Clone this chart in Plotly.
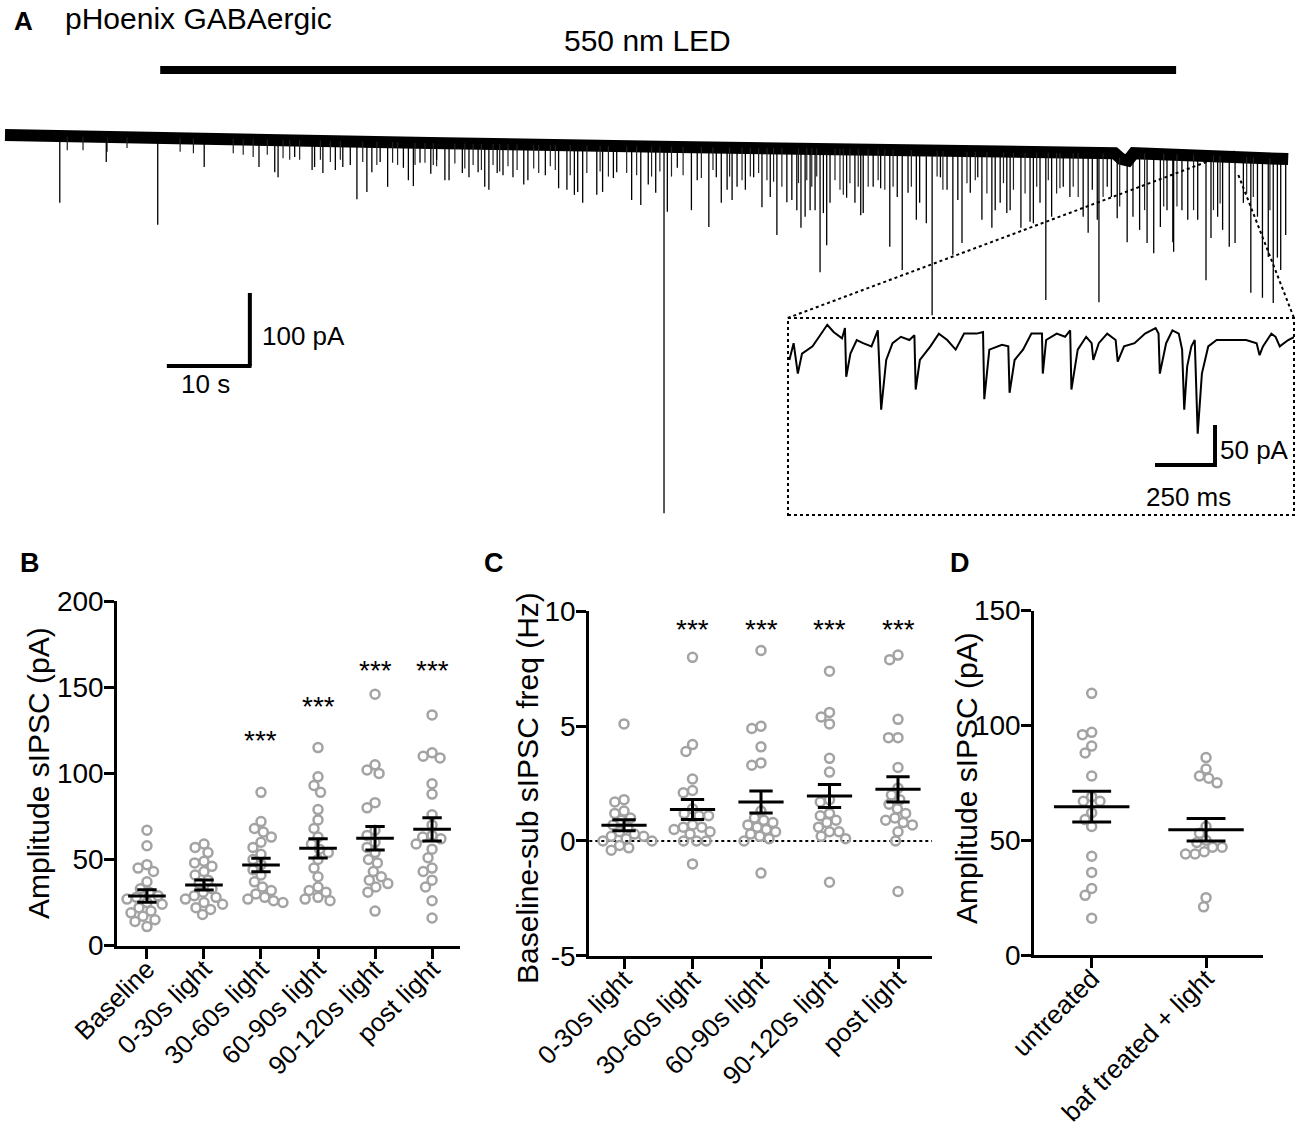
import numpy as np
import plotly.graph_objects as go

W, H = 1300, 1129
FONT = "Liberation Sans, Arial, sans-serif"
GREY = "#a3a3a3"

# ---------------- panel A: whole recording (time in s, current in pA) ----------------
base_t = [0, 11.4, 35.5, 51.2, 78.9, 103.0, 119.9, 133.7, 134.5, 135.3, 136.0, 144.0, 154.6]
base_i = [0, -3, -7, -11, -16, -19, -24, -25, -33, -35, -25, -27, -33]

# large events (peak current)
ev_t = [6.6, 12.2, 18.4, 24.0, 30.6, 32.5, 32.9, 34.9, 37.0, 37.3, 38.3, 39.8, 40.7, 41.6,
        42.4, 43.6, 44.2, 45.2, 46.1, 48.0, 48.6, 49.2, 50.0, 51.3, 52.0,
        53.0, 53.5, 55.1, 55.9, 57.0, 57.8, 58.3, 59.3, 60.0, 61.2, 62.5, 63.0, 65.1, 66.7,
        67.7, 68.6, 69.0, 69.6, 71.3, 72.0, 73.3, 73.7, 75.5, 76.6, 77.5, 78.4, 79.4, 79.8,
        81.0, 82.7, 83.4, 84.8, 85.7, 86.3, 87.0, 87.6, 88.2, 89.2, 90.2, 91.2, 92.2, 93.0,
        94.2, 94.8, 95.4, 95.9, 96.4, 97.0, 97.6, 98.2, 98.6, 99.0, 99.4, 101.4, 102.4, 103.1,
        103.4, 104.6, 105.5, 106.6, 107.5, 108.1, 108.8, 109.8, 110.2, 111.0, 111.7, 112.7,
        113.5, 114.2, 114.8, 115.3, 116.3, 117.2, 117.7, 118.9, 119.3, 119.9, 120.7, 121.1,
        122.4, 123.5, 123.9, 124.7, 125.4, 126.1, 127.5, 128.3, 129.9, 130.5, 131.0, 131.6,
        131.8, 132.8, 133.3, 134.0, 135.2, 135.9, 136.7, 137.6, 138.4, 139.2, 140.0, 140.7,
        140.8, 141.8, 142.5, 143.7, 144.7, 145.3, 146.1, 146.7, 147.5, 148.2, 149.2, 150.1,
        150.9, 151.5, 152.2, 152.8, 153.3, 153.7, 154.3]
ev_i = [-93, -37, -123, -44, -44, -51, -58, -30, -48, -44, -52, -48, -44, -41,
        -88, -78, -51, -37, -71, -45, -62, -70, -38, -53, -34,
        -62, -62, -52, -58, -51, -71, -75, -52, -55, -58, -68, -62, -55, -73,
        -75, -82, -78, -93, -82, -78, -59, -51, -89, -96, -68, -79, -518, -105,
        -45, -103, -62, -126, -58, -93, -75, -89, -71, -75, -58, -99, -85, -137,
        -92, -89, -103, -127, -112, -103, -103, -188, -107, -151, -93, -86, -93, -110,
        -107, -71, -73, -153, -85, -185, -79, -116, -93, -121, -247, -58,
        -75, -164, -89, -148, -79, -58, -116, -127, -103, -93, -107, -103,
        -127, -119, -121, -93, -226, -112, -71, -85, -112, -134, -75, -116,
        -229, -71, -85, -114, -147, -112, -130, -148, -162, -126, -103, -147,
        -160, -103, -116, -116, -199, -141, -112, -130, -153, -148, -93, -216,
        -112, -223, -167, -230, -168, -185, -137]

# small events forming the fringe under the baseline
sm_t = [7.5, 9.4, 12.3, 14.7, 21.1, 22.7, 27.5, 28.7, 29.9, 31.6, 33.5, 34.3, 35.5, 38.0,
        39.2, 40.4, 43.1, 44.8, 46.7, 47.3, 49.4, 50.6, 51.6,
        52.0, 54.2, 55.4, 56.4, 57.4, 58.8, 59.6, 60.6, 61.7, 63.7, 64.3, 65.7, 66.3, 68.1,
        70.1, 71.7, 72.7, 74.9, 76.1, 77.9, 78.9, 80.3, 81.7, 83.9, 85.3, 87.3, 88.8, 89.8,
        90.8, 91.8, 92.6, 93.6, 95.6, 96.6, 97.2, 97.8, 100.0, 100.6, 101.0, 101.8, 102.8,
        104.0, 105.2, 106.0, 107.0, 109.2, 112.3, 113.0, 115.9, 116.9, 118.3, 120.3, 121.5,
        122.9, 124.3, 125.7, 126.7, 127.1, 128.7, 129.3, 132.3, 134.3, 137.3, 139.6, 141.2,
        143.2, 145.6, 146.4, 149.6, 150.4, 152.4]
sm_i = [-21, -21, -23, -18, -23, -25, -25, -27, -30, -27, -32, -34, -34, -34,
        -37, -34, -37, -41, -38, -41, -41, -38, -41,
        -43, -39, -46, -41, -48, -41, -50, -43, -48, -46, -52, -43, -48, -55,
        -52, -50, -57, -52, -55, -57, -50, -57, -55, -59, -48, -57, -62, -57,
        -52, -62, -64, -71, -66, -62, -71, -57, -62, -75, -82, -66, -71,
        -71, -62, -75, -71, -71, -57, -75, -66, -62, -80, -66, -75,
        -80, -71, -62, -80, -73, -71, -85, -85, -98, -103, -98, -98,
        -103, -103, -94, -80, -85, -103]

led_on, led_off = 18.7, 141.1

# ---------------- inset (time in ms, current in pA) ----------------
ins_t = [5.8, 23.4, 40.9, 58.4, 102.3, 137.3, 163.7, 190.0, 225.0, 237.3, 242.6, 260.1, 286.4,
         312.7, 347.8, 374.1, 388.1, 409.2, 435.5, 470.5, 505.6, 526.6, 531.9, 549.4, 593.3,
         628.4, 663.4, 698.5, 733.6, 786.2, 812.5, 817.7, 838.8, 891.4, 917.7, 923.0, 944.0,
         979.1, 1014.1, 1058.0, 1061.5, 1075.5, 1119.4, 1154.4, 1175.5, 1180.7, 1207.0, 1242.1,
         1264.9, 1271.9, 1294.7, 1329.8, 1364.9, 1373.6, 1399.9, 1443.8, 1487.6, 1531.5, 1543.7,
         1549.0, 1575.3, 1601.6, 1627.9, 1641.9, 1650.7, 1663.0, 1680.5, 1694.5, 1706.8, 1724.3,
         1750.7, 1785.7, 1838.3, 1908.5, 1952.3, 1964.6, 1978.6, 2013.7, 2031.2, 2048.8, 2083.8,
         2110.1]
ins_i = [-25, -4, -42, -17, -8, 8, 19, 10, 2, 15, -46, -17, 0,
         -4, -8, 12, -87, -25, -4, 4, 0, 6, -62, -25, -8,
         8, 0, -12, 8, 8, 10, -74, -12, -6, -8, -66, -25,
         -12, 8, 8, -42, 0, 8, 4, 12, -62, -12, 4,
         -4, -25, -4, 8, 0, -27, -8, -4, 8, 15, 8,
         -42, -4, 12, 8, -12, -87, -33, -8, 0, -117, -42,
         -8, 0, 0, 0, -4, -19, -8, 8, 4, -8, 0,
         4]

# ---------------- panel B: amplitude (pA) ----------------
b_labels = ["Baseline", "0-30s light", "30-60s light", "60-90s light", "90-120s light", "post light"]
b_baseline = [67, 58, 47, 45, 43, 37, 33, 31, 29, 28, 27, 25, 24, 22, 20, 19, 17, 15, 14, 11]
b_0_30 = [59, 57, 54, 49, 48, 46, 43, 41, 38, 36, 33, 31, 29, 28, 27, 25, 24, 22, 21, 18]
b_30_60 = [89, 72, 68, 66, 63, 60, 57, 53, 50, 47, 44, 41, 37, 34, 32, 30, 28, 27, 26, 25]
b_60_90 = [115, 98, 93, 89, 79, 73, 68, 63, 59, 56, 54, 50, 45, 40, 34, 32, 31, 28, 27, 26]
b_90_120 = [146, 105, 102, 100, 83, 80, 67, 64, 60, 57, 54, 50, 48, 43, 40, 38, 36, 34, 31, 20]
b_post = [134, 112, 110, 109, 94, 88, 76, 70, 64, 63, 62, 59, 56, 51, 45, 43, 38, 34, 26, 16]
b_mean = [28.8, 35.2, 46.8, 56.5, 62.3, 67.5]
b_sem = [3.6, 2.9, 3.9, 5.6, 6.8, 6.8]
b_sig = ["", "", "***", "***", "***", "***"]

# ---------------- panel C: baseline-subtracted frequency (Hz) ----------------
c_labels = ["0-30s light", "30-60s light", "60-90s light", "90-120s light", "post light"]
c_0_30 = [5.1, 1.8, 1.7, 1.3, 1.2, 1.0, 0.9, 0.7, 0.6, 0.4, 0.3, 0.2, 0.2, 0.1, 0.0, 0.0, -0.2, -0.3, -0.4]
c_30_60 = [8.0, 4.2, 3.9, 2.7, 2.2, 2.1, 1.4, 1.2, 1.1, 1.1, 0.7, 0.6, 0.6, 0.5, 0.4, 0.3, 0.0, 0.0, 0.0, -1.0]
c_60_90 = [8.3, 5.0, 4.9, 4.1, 3.4, 3.3, 1.3, 1.0, 0.9, 0.8, 0.7, 0.6, 0.5, 0.4, 0.3, 0.2, 0.1, 0.0, -1.4]
c_90_120 = [7.4, 5.6, 5.4, 5.1, 3.6, 3.0, 1.8, 1.7, 1.2, 1.1, 0.9, 0.8, 0.6, 0.4, 0.4, 0.2, 0.1, -1.8]
c_post = [8.1, 7.9, 5.3, 4.5, 4.5, 3.2, 2.3, 2.0, 1.8, 1.6, 1.4, 1.2, 1.0, 0.9, 0.8, 0.7, 0.4, 0.0, -2.2]
c_mean = [0.68, 1.37, 1.70, 1.96, 2.25]
c_sem = [0.24, 0.44, 0.48, 0.50, 0.55]
c_sig = ["", "***", "***", "***", "***"]

# ---------------- panel D: amplitude (pA) ----------------
d_labels = ["untreated", "baf treated + light"]
d_untreated = [114, 97, 96, 91, 88, 78, 69, 67, 67, 62, 59, 56, 43, 36, 29, 26, 16]
d_baf = [86, 81, 78, 77, 75, 56, 53, 50, 49, 47, 47, 45, 44, 44, 25, 21]
d_mean = [64.6, 54.6]
d_sem = [6.7, 4.9]


def px(x):
    return x / W


def py(y):
    return 1 - y / H


def swarm(vals, ppu_y, ppu_x, d=9.5):
    # simple beeswarm: place each point as close to the centre as collisions allow
    order = sorted(range(len(vals)), key=lambda k: -vals[k])
    placed = []
    offs = [0.0] * len(vals)
    for k in order:
        yy = vals[k] * ppu_y
        blocks = []
        cands = [0.0]
        for (xx, y2) in placed:
            dy = abs(y2 - yy)
            if dy < d:
                dx = (d * d - dy * dy) ** 0.5
                blocks.append((xx - dx, xx + dx))
                cands += [xx - dx, xx + dx]
        ok = [c for c in cands if all(not (a + 1e-6 < c < b - 1e-6) for a, b in blocks)]
        best = min(ok, key=lambda c: (abs(c), c))
        placed.append((best, yy))
        offs[k] = best / ppu_x
    return offs


def event_segments(times, peaks):
    xs, ys = [], []
    for t, i in zip(times, peaks):
        top = float(np.interp(t, base_t, base_i))
        xs += [t, t, None]
        ys += [top, i, None]
    return xs, ys


fig = go.Figure()

# ---- panel A trace ----
fig.add_trace(go.Scatter(x=base_t, y=base_i, mode="lines", line=dict(color="black", width=12),
                         xaxis="x", yaxis="y", hoverinfo="skip"))
sx, sy = event_segments(sm_t, sm_i)
fig.add_trace(go.Scatter(x=sx, y=sy, mode="lines", line=dict(color="#222222", width=1.2),
                         xaxis="x", yaxis="y", hoverinfo="skip"))
ex, ey = event_segments(ev_t, ev_i)
fig.add_trace(go.Scatter(x=ex, y=ey, mode="lines", line=dict(color="black", width=1.3),
                         xaxis="x", yaxis="y", hoverinfo="skip"))

fig.add_trace(go.Scatter(x=ins_t, y=ins_i, mode="lines", line=dict(color="black", width=2),
                         xaxis="x2", yaxis="y2", hoverinfo="skip"))

# ---- dot plots ----
panels = [
    ("x3", "y3", [b_baseline, b_0_30, b_30_60, b_60_90, b_90_120, b_post], b_mean, b_sem,
     [0.09023, 0.35385], [-0.52, 5.49], [0.1625, 0.4674], [0, 200]),
    ("x4", "y4", [c_0_30, c_30_60, c_60_90, c_90_120, c_post], c_mean, c_sem,
     [0.4533, 0.7169], [-0.507, 4.496], [0.1535, 0.4584], [-5, 10]),
    ("x5", "y5", [d_untreated, d_baf], d_mean, d_sem,
     [0.7956, 0.9718], [-0.502, 1.501], [0.1541, 0.4591], [0, 150]),
]

for xa, ya, groups, means, sems, xdom, xr, ydom, yr in panels:
    ppu_x = W * (xdom[1] - xdom[0]) / (xr[1] - xr[0])
    ppu_y = H * (ydom[1] - ydom[0]) / (yr[1] - yr[0])
    for g, vals in enumerate(groups):
        offs = swarm(vals, ppu_y, ppu_x)
        fig.add_trace(go.Scatter(
            x=[g + o for o in offs], y=vals, mode="markers", xaxis=xa, yaxis=ya,
            marker=dict(symbol="circle-open", size=9, color=GREY, line=dict(width=2.5, color=GREY)),
            hoverinfo="skip"))
    lx, ly = [], []
    for g, (m, s) in enumerate(zip(means, sems)):
        lx += [g - 0.33, g + 0.33, None, g, g, None,
               g - 0.17, g + 0.17, None, g - 0.17, g + 0.17, None]
        ly += [m, m, None, m - s, m + s, None, m + s, m + s, None, m - s, m - s, None]
    fig.add_trace(go.Scatter(x=lx, y=ly, mode="lines", xaxis=xa, yaxis=ya,
                             line=dict(color="black", width=3), hoverinfo="skip"))

axis_style = dict(showline=True, linecolor="black", linewidth=3, ticks="outside", tickwidth=3,
                  tickcolor="black", showgrid=False, zeroline=False, automargin=False,
                  tickfont=dict(family=FONT, size=28, color="black"))

layout = dict(
    width=W, height=H, margin=dict(l=0, r=0, t=0, b=0, autoexpand=False),
    paper_bgcolor="white", plot_bgcolor="white", showlegend=False,
    font=dict(family=FONT, color="black"),
    xaxis=dict(domain=[0, 1], range=[-5 / 8.3, 1295 / 8.3], visible=False, anchor="y", automargin=False),
    yaxis=dict(domain=[1 - 530 / H, 1], range=[-541.1, 184.9], visible=False, anchor="x", automargin=False),
    xaxis2=dict(domain=[788 / W, 1294 / W], range=[0, 2108], visible=False, anchor="y2", automargin=False),
    yaxis2=dict(domain=[1 - 515 / H, 1 - 318 / H], range=[-218.75, 27.5], visible=False, anchor="x2",
                automargin=False),
)

tick_labels = [b_labels, c_labels, d_labels]
yticks = [([0, 50, 100, 150, 200], ["0", "50", "100", "150", "200"]),
          ([-5, 0, 5, 10], ["-5", "0", "5", "10"]),
          ([0, 50, 100, 150], ["0", "50", "100", "150"])]
for n, (xa, ya, groups, means, sems, xdom, xr, ydom, yr) in enumerate(panels):
    xk = "xaxis" + xa[1:]
    yk = "yaxis" + ya[1:]
    layout[xk] = dict(axis_style, domain=xdom, range=xr, anchor=ya, ticklen=10,
                      tickvals=list(range(len(groups))), ticktext=tick_labels[n], tickangle=-45,
                      ticklabelstandoff=-15,
                      tickfont=dict(family=FONT, size=26, color="black"))
    layout[yk] = dict(axis_style, domain=ydom, range=yr, anchor=xa, ticklen=10,
                      ticklabelstandoff=-5,
                      tickvals=yticks[n][0], ticktext=yticks[n][1])
fig.update_layout(**layout)

# ---- shapes ----
shapes = [
    # LED bar
    dict(type="line", xref="x", yref="y", x0=led_on, x1=led_off, y0=89, y1=89,
         line=dict(color="black", width=8)),
    # main scale bar: 10 s, 100 pA
    dict(type="line", xref="x", yref="y", x0=29.5, x1=29.5, y0=-316.4, y1=-316.4 + 100,
         line=dict(color="black", width=4)),
    dict(type="line", xref="x", yref="y", x0=29.5 - 10, x1=29.7, y0=-316.4, y1=-316.4,
         line=dict(color="black", width=4)),
    # inset box and zoom lines
    dict(type="rect", xref="x2 domain", yref="y2 domain", x0=0, x1=1, y0=0, y1=1,
         line=dict(color="black", width=2, dash="dot")),
    dict(type="line", xref="x", yref="y", x0=94.3, y0=-250.7, x1=148.3, y1=-21.9,
         line=dict(color="black", width=2, dash="dot")),
    dict(type="line", xref="x", yref="y", x0=148.6, y0=-54.8, x1=155.3, y1=-250.7,
         line=dict(color="black", width=2, dash="dot")),
    # inset scale bar: 250 ms, 50 pA
    dict(type="line", xref="x2", yref="y2", x0=1779, x1=1779, y0=-156.25, y1=-156.25 + 50,
         line=dict(color="black", width=4)),
    dict(type="line", xref="x2", yref="y2", x0=1779 - 250, x1=1787, y0=-156.25, y1=-156.25,
         line=dict(color="black", width=4)),
    # panel C zero line
    dict(type="line", xref="x4 domain", yref="y4", x0=0, x1=1, y0=0, y1=0, layer="below",
         line=dict(color="black", width=2, dash="dot")),
]
fig.update_layout(shapes=shapes)


def txt(x, y, s, size, xanchor="center", bold=False, angle=0):
    return dict(x=px(x), y=py(y), xref="paper", yref="paper", text=("<b>%s</b>" % s) if bold else s,
                showarrow=False, xanchor=xanchor, yanchor="middle", textangle=angle,
                font=dict(family=FONT, size=size, color="black"))


ann = [
    txt(23, 21, "A", 26, bold=True),
    txt(63, 19, "pHoenix GABAergic", 30, xanchor="left"),
    txt(647, 41, "550 nm LED", 30),
    txt(260, 336, "100 pA", 26, xanchor="left"),
    txt(205, 384, "10 s", 26),
    txt(1218, 450, "50 pA", 26, xanchor="left"),
    txt(1188, 497, "250 ms", 26),
    txt(30, 563, "B", 27, bold=True),
    txt(494, 563, "C", 27, bold=True),
    txt(960, 563, "D", 27, bold=True),
    txt(38, 773, "Amplitude sIPSC (pA)", 30, angle=-90),
    txt(527, 788, "Baseline-sub sIPSC freq (Hz)", 30, angle=-90),
    txt(966, 778, "Amplitude sIPSC (pA)", 30, angle=-90),
]
b_star_y = [0, 0, 118.9, 138.7, 159.6, 159.6]
for g, s in enumerate(b_sig):
    if s:
        ann.append(dict(x=g, y=b_star_y[g], xref="x3", yref="y3", text=s, showarrow=False,
                        font=dict(family=FONT, size=28, color="black")))
for g, s in enumerate(c_sig):
    if s:
        ann.append(dict(x=g, y=9.21, xref="x4", yref="y4", text=s, showarrow=False,
                        font=dict(family=FONT, size=28, color="black")))
fig.update_layout(annotations=ann)

fig.write_html("out.html", config={"displayModeBar": False},
               post_script="document.body.style.margin='0';")
